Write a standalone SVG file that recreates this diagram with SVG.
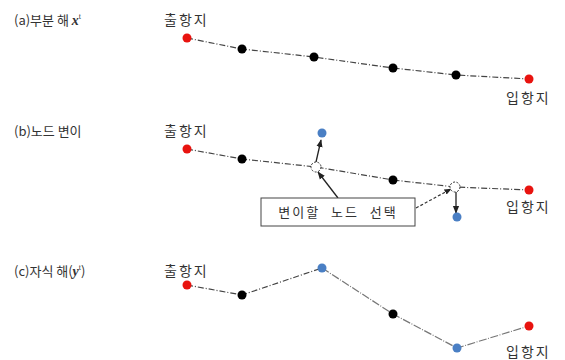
<svg xmlns="http://www.w3.org/2000/svg" width="565" height="360" viewBox="0 0 565 360">
<style>
text{font-family:"Noto Sans CJK KR","Noto Sans",sans-serif;font-size:13px;fill:#333}
.pl{font-size:14px;letter-spacing:2px}
.ln{fill:none;stroke:#444;stroke-width:1.2;stroke-dasharray:6 2 1 2}
.ln2{fill:none;stroke:#777;stroke-width:1.2;stroke-dasharray:8 1.5 1 1.5}
.red{fill:#e8130f}
.blk{fill:#000}
.blu{fill:#4a7fc4}
.hol{fill:#fff;stroke:#333;stroke-width:1;stroke-dasharray:2 1.5}
.ar{stroke:#222;stroke-width:1.3;fill:none}
.ard{stroke:#333;stroke-width:1.2;fill:none;stroke-dasharray:3 2}
</style>
<defs>
<marker id="ah" viewBox="0 0 10 10" refX="9" refY="5" markerWidth="6" markerHeight="6" orient="auto"><path d="M0,1 L10,5 L0,9 z" fill="#222"/></marker>
</defs>
<g id="labels">
<text x="14" y="25">(a)부분 해 <tspan font-family="Liberation Serif,serif" font-style="italic" font-weight="bold" font-size="14">x</tspan><tspan font-family="Liberation Serif,serif" font-size="8" dy="-6">t</tspan></text>
<text x="14" y="136">(b)노드 변이</text>
<text x="14" y="276">(c)자식 해(<tspan font-family="Liberation Serif,serif" font-style="italic" font-weight="bold" font-size="14">y</tspan><tspan font-family="Liberation Serif,serif" font-size="8" dy="-6">t</tspan><tspan dy="6">)</tspan></text>
<text class="pl" x="164" y="25">출항지</text>
<text class="pl" x="164" y="136">출항지</text>
<text class="pl" x="164" y="276">출항지</text>
<text class="pl" x="506" y="103">입항지</text>
<text class="pl" x="506" y="212">입항지</text>
<text class="pl" x="506" y="357">입항지</text>
</g>
<g id="connectors">
<polyline class="ln" points="187,38 242,49 314,57 393,68 456,75 529,79"/>
<polyline class="ln" points="187,149 242,159 316,167 393,180 455,187 529,190"/>
<polyline class="ln" points="187,285 242,295 322,268"/>
<polyline class="ln2" points="322,268 393,314 457,348 529,326"/>
<line class="ar" x1="316" y1="162" x2="321" y2="140" marker-end="url(#ah)"/>
<line class="ar" x1="456" y1="192" x2="456" y2="213" marker-end="url(#ah)"/>
<line class="ar" x1="338" y1="198" x2="318" y2="172" marker-end="url(#ah)"/>
<line class="ard" x1="416" y1="208" x2="451" y2="189" marker-end="url(#ah)"/>
</g>
<g id="row-a">
<circle class="red" cx="187" cy="38" r="4.5"/>
<circle class="blk" cx="242" cy="49" r="4.5"/>
<circle class="blk" cx="314" cy="57" r="4.5"/>
<circle class="blk" cx="393" cy="68" r="4.5"/>
<circle class="blk" cx="456" cy="75" r="4.5"/>
<circle class="red" cx="529" cy="79" r="4.5"/>
</g>
<g id="row-b">
<circle class="red" cx="187" cy="149" r="4.5"/>
<circle class="blk" cx="242" cy="159" r="4.5"/>
<circle class="hol" cx="316" cy="167" r="5"/>
<circle class="blu" cx="322" cy="133" r="4.5"/>
<circle class="blk" cx="393" cy="180" r="4.5"/>
<circle class="hol" cx="455" cy="187" r="5"/>
<circle class="blu" cx="457" cy="217" r="4.5"/>
<circle class="red" cx="529" cy="190" r="4.5"/>
</g>
<g id="select-box">
<rect x="261" y="198" width="154" height="28" fill="#fff" stroke="#444" stroke-width="1"/>
<text x="338" y="217" text-anchor="middle" font-size="14" letter-spacing="2" word-spacing="6">변이할 노드 선택</text>
</g>
<g id="row-c">
<circle class="red" cx="187" cy="285" r="4.5"/>
<circle class="blk" cx="242" cy="295" r="4.5"/>
<circle class="blu" cx="322" cy="268" r="4.5"/>
<circle class="blk" cx="393" cy="314" r="4.5"/>
<circle class="blu" cx="457" cy="348" r="4.5"/>
<circle class="red" cx="529" cy="326" r="4.5"/>
</g>
</svg>
